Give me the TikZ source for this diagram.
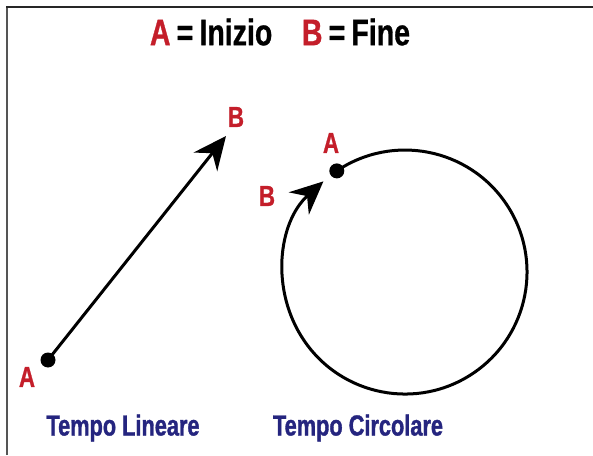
\documentclass[tikz,border=0pt]{standalone}
\usepackage{fontspec}
\setmainfont{Liberation Sans}
\newfontfamily\condA[FakeStretch=0.77,FakeBold=0.8]{Liberation Sans}
\newfontfamily\condB[FakeStretch=0.75,FakeBold=1.2]{Liberation Sans}
\usetikzlibrary{arrows.meta}
\definecolor{lred}{HTML}{C41E2A}
\definecolor{lblue}{HTML}{25257F}
\definecolor{framegray}{HTML}{555555}
\begin{document}
\begin{tikzpicture}[x=1pt,y=1pt,
  dot/.style={circle,fill=black,inner sep=0pt,minimum size=15pt},
  arr/.style={line width=3pt,-{Stealth[length=33pt,width=30pt,inset=11pt]}},
  lab/.style={text=lred,font=\condA\bfseries\fontsize{29}{29}\selectfont,inner sep=0pt},
  captxt/.style={text=lblue,font=\condB\bfseries\fontsize{29}{29}\selectfont,inner sep=0pt},
  ttl/.style={font=\condA\bfseries\fontsize{37}{37}\selectfont,inner sep=0pt}]
\useasboundingbox (0,0) rectangle (593,455);
\fill[white] (0,0) rectangle (593,455);
% frame
\draw[framegray,line width=2pt] (7,0) -- (7,448);
\draw[black!85,line width=2pt] (6,448) -- (593,448);
% title
\node[ttl] (title) at (280,423) {\textcolor{lred}{A}\,=\,Inizio\hspace{0.8em}\textcolor{lred}{B}\,=\,Fine};
% linear time
\node[dot] (a1) at (48,95) {};
\coordinate (b1) at (226,319);
\draw[arr] (a1.center) -- (b1);
\node[lab] (la1) at (27,78) {A};
\node[lab] (lb1) at (236,338) {B};
\node[captxt] (c1) at (123,27) {Tempo Lineare};
% circular time
\coordinate (cc) at (405,183);
\node[dot] (a2) at (336.8,284.1) {};
\draw[arr] (a2.center) arc[start angle=124,end angle=-228,radius=122];
\node[lab] (la2) at (331,312) {A};
\node[lab] (lb2) at (267,259) {B};
\node[captxt] (c2) at (358,27) {Tempo Circolare};
\end{tikzpicture}
\end{document}
